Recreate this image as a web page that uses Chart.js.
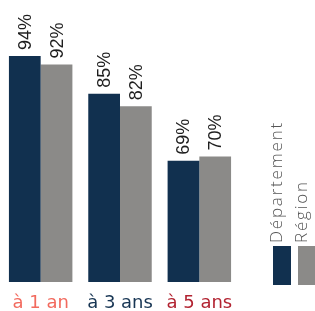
<!DOCTYPE html>
<html><head><meta charset="utf-8">
<style>html,body{margin:0;padding:0;background:#fff;overflow:hidden}canvas{display:block}</style>
<script src="https://cdn.jsdelivr.net/npm/chart.js@4"></script>
</head><body>
<canvas id="c" width="315" height="311"></canvas>
<script>
const categories = ['à 1 an', 'à 3 ans', 'à 5 ans'];
const departement = [94, 85, 69];
const region = [92, 82, 70];
const seriesLabels = ['Département', 'Région'];
const categoryColors = ['#f26a5e', '#173553', '#b22331'];
const seriesColors = ['#11304f', '#8b8a88'];

const valueLabels = {
  id: 'valueLabels',
  afterDatasetsDraw(chart) {
    const ctx = chart.ctx;
    ctx.save();
    ctx.font = '18px "Liberation Sans", Arial, sans-serif';
    ctx.fillStyle = '#1e1e1e';
    ctx.textAlign = 'left';
    ctx.textBaseline = 'middle';
    chart.data.datasets.forEach((ds, di) => {
      chart.getDatasetMeta(di).data.forEach((el, i) => {
        ctx.save();
        ctx.translate(el.x + 1, el.y - 6);
        ctx.rotate(-Math.PI / 2);
        ctx.fillText(ds.data[i] + '%', 0, 0);
        ctx.restore();
      });
    });
    ctx.restore();
  }
};

const sideLegend = {
  id: 'sideLegend',
  afterDraw(chart) {
    const ctx = chart.ctx;
    const left = [273, 298];
    ctx.save();
    chart.data.datasets.forEach((ds, di) => {
      ctx.fillStyle = ds.backgroundColor;
      ctx.fillRect(left[di], 246, 18, 39);
      ctx.save();
      ctx.translate(left[di] + 9, 243);
      ctx.rotate(-Math.PI / 2);
      ctx.font = '300 17px "Open Sans", Lato, sans-serif';
      ctx.letterSpacing = '1.8px';
      ctx.fillStyle = '#555555';
      ctx.textAlign = 'left';
      ctx.textBaseline = 'alphabetic';
      ctx.fillText(ds.label, 0, 0);
      ctx.restore();
    });
    ctx.restore();
  }
};

new Chart(document.getElementById('c'), {
  type: 'bar',
  data: {
    labels: categories,
    datasets: [
      { label: seriesLabels[0], data: departement, backgroundColor: seriesColors[0] },
      { label: seriesLabels[1], data: region, backgroundColor: seriesColors[1] }
    ]
  },
  options: {
    responsive: false,
    animation: false,
    devicePixelRatio: 1,
    layout: { padding: { left: 1, right: 76, top: 31, bottom: 0 } },
    datasets: { bar: { categoryPercentage: 0.8, barPercentage: 1.0, borderWidth: 0 } },
    plugins: { legend: { display: false }, tooltip: { enabled: false } },
    scales: {
      x: {
        grid: { display: false, drawTicks: false },
        border: { display: false },
        afterFit(scale) { scale.height = 29; },
        ticks: {
          color: (c) => categoryColors[c.index],
          font: { family: '"DejaVu Sans", sans-serif', size: 18 },
          padding: 11
        }
      },
      y: { display: false, min: 40, max: 100 }
    }
  },
  plugins: [valueLabels, sideLegend]
});
</script>
</body></html>
